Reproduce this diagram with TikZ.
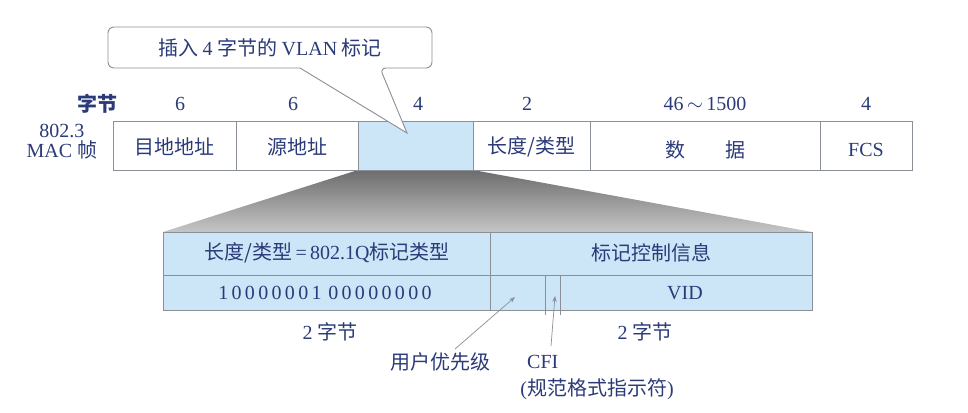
\documentclass[tikz,border=0pt]{standalone}
\usepackage{fontspec}
\setmainfont{Liberation Serif}
\newfontfamily\cjk{Noto Sans CJK SC}
\usetikzlibrary{arrows.meta}
\definecolor{txt}{HTML}{2B3A78}
\definecolor{lblue}{HTML}{CDE6F7}
\definecolor{ln}{HTML}{8A8F98}
\begin{document}
\begin{tikzpicture}[x=1pt,y=-1pt,
  lbl/.style={text=txt,font=\fontsize{20}{22}\selectfont,inner sep=0},
  cell/.style={draw=ln,line width=0.8pt},
  arr/.style={draw=ln,line width=0.7pt,-{Stealth[length=6pt]}}]
\useasboundingbox (0,0) rectangle (968,412);
% shadow trapezoid
\shade[top color=gray!85!black,bottom color=gray!45] (358,170) -- (473,170) -- (812,232) -- (163,232) -- cycle;
% top frame
\fill[lblue] (358,121) rectangle (473,170);
\foreach \a/\b in {113/236,236/358,358/473,473/590,590/820,820/912}
  \draw[cell] (\a,121) rectangle (\b,170);
\node[lbl] (c1) at (174.5,147) {\cjk 目地地址};
\node[lbl] (c2) at (297,147) {\cjk 源地址};
\node[lbl] (c4) at (531.5,147) {\cjk 长度/类型};
\node[lbl] (c5) at (705,150) {\cjk 数\quad\quad 据};
\node[lbl] (c6) at (866,150) {FCS};
\node[lbl] (b0) at (97,104) {\cjk\bfseries 字节};
\node[lbl] (b1) at (180,104) {6};
\node[lbl] (b2) at (293,104) {6};
\node[lbl] (b3) at (418,104) {4};
\node[lbl] (b4) at (527,104) {2};
\node[lbl] (b5) at (705,104) {46\,$\sim$\,1500};
\node[lbl] (b6) at (866,104) {4};
\node[lbl,align=center] (mac) at (62,142) {802.3\\[-2pt]MAC {\cjk 帧}};
% callout
\draw[ln,line width=0.9pt,fill=white,rounded corners=6pt]
  (108,27) -- (432,27) -- (432,68) -- (380,68) [sharp corners] -- (407,133) -- (300,68) [rounded corners=6pt] -- (108,68) -- cycle;
\node[lbl] (call) at (270,48) {\cjk 插入 {\rmfamily 4} 字节的 {\rmfamily VLAN} 标记};
% lower box
\fill[lblue] (163,232) rectangle (812,310);
\draw[cell] (163,232) rectangle (812,310);
\draw[cell] (163,275) -- (812,275);
\draw[cell] (490,232) -- (490,310);
\draw[cell] (545,275) -- (545,315);
\draw[cell] (560,275) -- (560,315);
\node[lbl] (t1) at (327,253) {\cjk 长度/类型{\rmfamily\,=\,802.1Q}标记类型};
\node[lbl] (t2) at (651,253) {\cjk 标记控制信息};
\node[lbl] (t3) at (325,293) {1\,0\,0\,0\,0\,0\,0\,1\,\,0\,0\,0\,0\,0\,0\,0\,0};
\node[lbl] (t4) at (685,293) {VID};
\node[lbl] (s1) at (330,332) {2 {\cjk 字节}};
\node[lbl] (s2) at (645,332) {2 {\cjk 字节}};
\node[lbl] (up) at (440,362) {\cjk 用户优先级};
\node[lbl,anchor=west] (cfi) at (527,362) {CFI};
\node[lbl] (cfi2) at (597,389) {{\rmfamily(}\cjk 规范格式指示符{\rmfamily)}};
\coordinate (pa) at (515,297);
\coordinate (pb) at (555,296);
\draw[arr] (455,349) -- (pa);
\draw[arr] (551,346) -- (pb);
\end{tikzpicture}
\end{document}
